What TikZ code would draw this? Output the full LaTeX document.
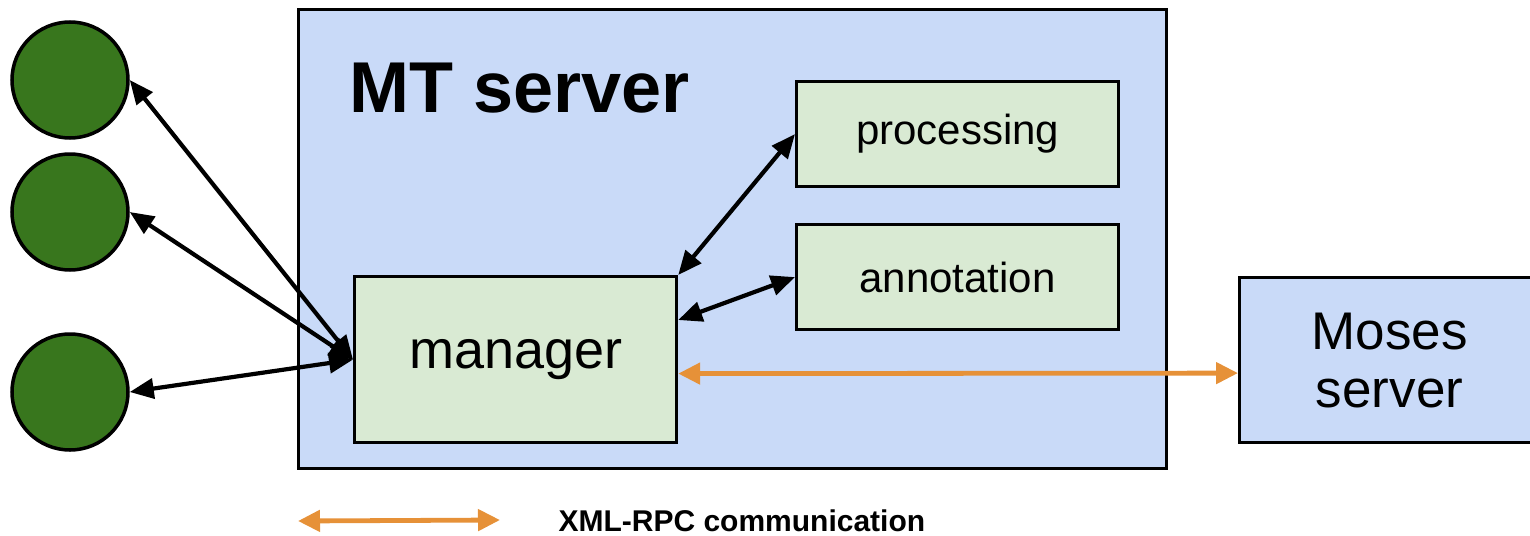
\documentclass[tikz,border=0pt]{standalone}
\usepackage{fontspec}
\setmainfont{Liberation Sans}
\usetikzlibrary{arrows.meta}
\definecolor{serverblue}{HTML}{C9DAF8}
\definecolor{modgreen}{HTML}{D9EAD3}
\definecolor{clientgreen}{HTML}{38761D}
\definecolor{rpcorange}{HTML}{E69138}
\tikzset{
  box/.style={draw=black, line width=3.2pt, inner sep=0pt, anchor=north west},
  module/.style={box, fill=modgreen},
  client/.style={circle, draw=black, line width=3.5pt, fill=clientgreen, minimum size=116pt, inner sep=0pt},
  biarrow/.style={line width=4.2pt, {Triangle[length=24pt,width=20pt]}-{Triangle[length=24pt,width=20pt]}},
  rpcarrow/.style={draw=rpcorange, line width=4.8pt, {Triangle[length=22pt,width=21pt]}-{Triangle[length=22pt,width=21pt]}}
}
\begin{document}
\begin{tikzpicture}[x=1pt, y=-1pt]
  \useasboundingbox (0,0) rectangle (1530,535);
  % MT server container
  \node[box, fill=serverblue, minimum width=868pt, minimum height=459pt] (mt) at (297,8) {};
  \node[anchor=base west, font=\bfseries\fontsize{72}{80}\selectfont] (mttitle) at (346,112) {MT server};
  % modules inside the MT server
  \node[module, minimum width=322pt, minimum height=105pt] (proc) at (795,80) {};
  \node[font=\fontsize{42}{48}\selectfont] (proctext) at (proc.center) {processing};
  \node[module, minimum width=322pt, minimum height=105pt] (anno) at (795,223) {};
  \node[font=\fontsize{42}{48}\selectfont] (annotext) at (anno.center) {annotation};
  \node[module, minimum width=322pt, minimum height=166pt] (mgr) at (353,275) {};
  \node[font=\fontsize{54}{60}\selectfont] (mgrtext) at (mgr.center) {manager};
  % Moses server
  \node[box, fill=serverblue, minimum width=310pt, minimum height=165pt] (moses) at (1238,276) {};
  \node[align=center, font=\fontsize{53}{58}\selectfont] (mosestext) at ([xshift=-5pt]moses.center) {Moses\\server};
  % clients
  \node[client] (c1) at (70,80) {};
  \node[client] (c2) at (70,212) {};
  \node[client] (c3) at (70,392) {};
  % connections
  \draw[biarrow] (c1.east) -- (mgr.west);
  \draw[biarrow] (c2.east) -- (mgr.west);
  \draw[biarrow] (c3.east) -- (mgr.west);
  \draw[biarrow] (mgr.north east) -- (proc.west);
  \draw[biarrow] ([yshift=-45pt]mgr.north east) -- (anno.west);
  \draw[rpcarrow] ([yshift=-14pt]mgr.east) -- ([yshift=-13pt]moses.west);
  % legend
  \coordinate (lega) at (298,521);
  \coordinate (legb) at (500,520);
  \draw[rpcarrow] (lega) -- (legb);
  \node[anchor=base west, font=\bfseries\fontsize{30}{34}\selectfont] (legtext) at (555,531) {XML-RPC communication};
\end{tikzpicture}
\end{document}
